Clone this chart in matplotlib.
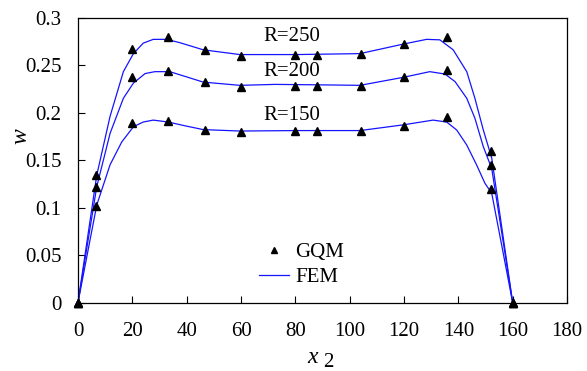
import numpy as np
import matplotlib
matplotlib.use("Agg")
import matplotlib.pyplot as plt
from matplotlib.lines import Line2D

plt.rcParams['font.family'] = ['Liberation Serif', 'DejaVu Serif']

# GQM points (markers)
gqm_x = [0, 6.7, 20, 33.3, 46.7, 60, 80, 88, 104, 120, 136, 152, 160]
gqm_250 = [0, 0.134, 0.267, 0.280, 0.266, 0.259, 0.2605, 0.2605, 0.2615, 0.2725, 0.279, 0.160, 0]
gqm_200 = [0, 0.122, 0.237, 0.244, 0.232, 0.2265, 0.228, 0.228, 0.228, 0.237, 0.245, 0.145, 0]
gqm_150 = [0, 0.1016, 0.189, 0.191, 0.1816, 0.179, 0.181, 0.181, 0.181, 0.186, 0.195, 0.1195, 0]

# FEM curves
fem_x_250 = [0, 6.9, 11.8, 16.7, 20.4, 24, 27.7, 32.6, 37.5, 46.1, 59.6, 80.5, 103.8,
             119.7, 128.3, 133.2, 138.1, 143.1, 146.1, 149.2, 152.3, 160]
fem_250 = [0, 0.134, 0.196, 0.243, 0.262, 0.273, 0.277, 0.277, 0.2735, 0.266, 0.261, 0.261, 0.262,
           0.272, 0.277, 0.2765, 0.266, 0.243, 0.215, 0.1816, 0.152, 0]

fem_x_200 = [0, 6.9, 11.8, 16.7, 20.4, 24.7, 28.3, 33.8, 39.4, 46.1, 59.6, 72.5, 92.7, 103.8,
             119.7, 129.5, 135.1, 138.8, 143.1, 146.1, 149.2, 152.3, 160]
fem_200 = [0, 0.122, 0.178, 0.215, 0.231, 0.241, 0.243, 0.243, 0.238, 0.232, 0.2286, 0.2296, 0.229, 0.2286,
           0.237, 0.243, 0.2405, 0.2325, 0.215, 0.194, 0.164, 0.141, 0]

fem_x_150 = [0, 6.9, 11.8, 16.1, 20.4, 24, 27.7, 33.2, 39.4, 46.1, 59.6, 80.5, 103.8,
             119.7, 130.7, 135.7, 139.4, 143.1, 146.7, 149.8, 152.3, 160]
fem_150 = [0, 0.1026, 0.145, 0.169, 0.185, 0.190, 0.192, 0.190, 0.186, 0.182, 0.1805, 0.181, 0.181,
           0.187, 0.192, 0.190, 0.1816, 0.1658, 0.145, 0.1255, 0.115, 0]

labels = ["R=250", "R=200", "R=150"]
label_pos = [(78.6, 0.2798), (78.6, 0.243), (78.6, 0.197)]

fig = plt.figure(figsize=(5.87, 3.71), dpi=100)
ax = fig.add_axes([0.1329, 0.1846, 0.9659 - 0.1329, 0.9528 - 0.1846])

for fx, fy in [(fem_x_250, fem_250), (fem_x_200, fem_200), (fem_x_150, fem_150)]:
    ax.plot(fx, fy, color='#1414ff', lw=0.9)
for gy in [gqm_250, gqm_200, gqm_150]:
    ax.plot(gqm_x, gy, '^', color='black', ms=6, clip_on=False, zorder=5)

for lab, (lx, ly) in zip(labels, label_pos):
    ax.text(lx, ly, lab, ha='center', va='center', fontsize=15)

ax.set_xlim(0, 180)
ax.set_ylim(0, 0.3)
ax.set_xticks(np.arange(0, 181, 20))
ax.set_yticks([0, 0.05, 0.1, 0.15, 0.2, 0.25, 0.3])
ax.set_yticklabels(['0', '0.05', '0.1', '0.15', '0.2', '0.25', '0.3'])
ax.tick_params(axis='both', direction='in', labelsize=15, width=0.8)
ax.tick_params(axis='x', length=5, pad=14)
ax.tick_params(axis='y', length=5, pad=12)
for s in ax.spines.values():
    s.set_linewidth(0.9)

fig.text(21 / 587, 1 - 136 / 371, 'w', rotation=90, style='italic', fontsize=17,
         ha='center', va='center')
fig.text(313 / 587, 1 - 363 / 371, 'x', style='italic', fontsize=17, ha='center', va='baseline')
fig.text(328 / 587, 1 - 367 / 371, '2', fontsize=15, ha='center', va='baseline')

handles = [Line2D([], [], marker='^', ls='none', color='black', ms=5),
           Line2D([], [], color='#1414ff', lw=0.9)]
fig.legend(handles, ['GQM', 'FEM'], loc='center', bbox_to_anchor=(301.5 / 587, 1 - 265 / 371),
           frameon=False, fontsize=15, handlelength=1.45, handletextpad=0.3,
           labelspacing=0.25, borderpad=0, borderaxespad=0)

fig.savefig('out.png', dpi=100)
